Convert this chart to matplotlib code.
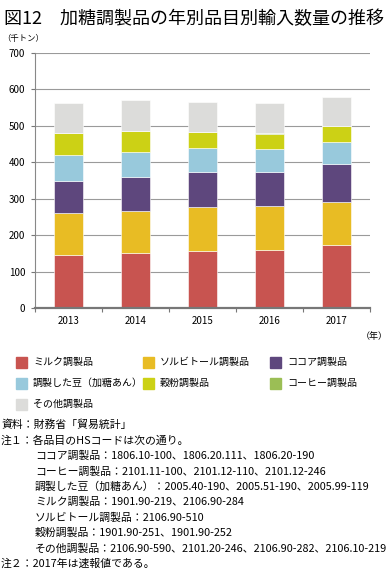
import numpy as np
import matplotlib
matplotlib.use("Agg")
import matplotlib.pyplot as plt

plt.rcParams['font.family'] = ['Noto Sans CJK JP', 'DejaVu Sans']

years = ["2013", "2014", "2015", "2016", "2017"]
# 千トン, stacked bottom -> top
milk = [145, 150, 157, 159, 173]
sorbitol = [115, 116, 119, 120, 117]
cocoa = [88, 93, 98, 94, 104]
beans = [73, 70, 66, 64, 62]
grain = [59, 57, 43, 42, 43]
coffee = [1, 1, 1, 1, 1]
other = [83, 83, 82, 84, 79]

names = ["ミルク調製品", "ソルビトール調製品", "ココア調製品",
         "調製した豆（加糖あん）", "穀粉調製品", "コーヒー調製品", "その他調製品"]
series = [milk, sorbitol, cocoa, beans, grain, coffee, other]
colors = ["#C85450", "#E8BC24", "#5E477D", "#98C9DC", "#CCD115", "#9BBE55", "#DCDCDA"]

notes = [
    ("資料：財務省「貿易統計」", 0),
    ("注１：各品目のHSコードは次の通り。", 0),
    ("ココア調製品：1806.10-100、1806.20.111、1806.20-190", 1),
    ("コーヒー調製品：2101.11-100、2101.12-110、2101.12-246", 1),
    ("調製した豆（加糖あん）：2005.40-190、2005.51-190、2005.99-119", 1),
    ("ミルク調製品：1901.90-219、2106.90-284", 1),
    ("ソルビトール調製品：2106.90-510", 1),
    ("穀粉調製品：1901.90-251、1901.90-252", 1),
    ("その他調製品：2106.90-590、2101.20-246、2106.90-282、2106.10-219", 1),
    ("注２：2017年は速報値である。", 0),
]

fig = plt.figure(figsize=(3.9, 5.7), dpi=100)
ax = fig.add_axes([35 / 390, 1 - 308 / 570, 335 / 390, 255 / 570])

x = np.arange(len(years))
bottom = np.zeros(len(years))
for vals, c, n in zip(series, colors, names):
    ax.bar(x, vals, 0.43, bottom=bottom, color=c, edgecolor="white", linewidth=0.4, label=n, zorder=3)
    bottom += np.array(vals)

ax.set_ylim(0, 700)
ax.set_xlim(-0.5, len(years) - 0.5)
ax.set_yticks(range(0, 701, 100))
ax.yaxis.grid(True, color="#9A9A9A", linewidth=0.8, zorder=0)
ax.set_xticks(x)
ax.set_xticklabels(years)
ax.set_xticks(np.arange(-0.5, len(years)), minor=True)
ax.tick_params(axis="x", which="major", length=0, labelsize=7, pad=6)
ax.tick_params(axis="x", which="minor", length=3, color="#777777", width=0.8)
ax.tick_params(axis="y", length=3, color="#777777", width=0.8, labelsize=7, pad=4)
for s in ["top", "right"]:
    ax.spines[s].set_visible(False)
ax.spines["left"].set_color("#888888")
ax.spines["left"].set_linewidth(0.8)
ax.spines["bottom"].set_color("#777777")
ax.spines["bottom"].set_linewidth(1.6)
ax.spines["bottom"].set_zorder(4)

fig.text(4 / 390, 1 - 19 / 570, "図12　加糖調製品の年別品目別輸入数量の推移", fontsize=13,
         va="center", ha="left")
fig.text(2 / 390, 1 - 38 / 570, "（千トン）", fontsize=6, va="center", ha="left")
fig.text(388 / 390, 1 - 337 / 570, "（年）", fontsize=6.5, va="center", ha="right")

# legend laid out in rows of three
for i, (n, c) in enumerate(zip(names, colors)):
    row, col = divmod(i, 3)
    lx = 16 + col * 127
    ly = 362 + row * 21
    fig.patches.append(plt.Rectangle((lx / 390, 1 - (ly + 5.5) / 570), 11 / 390, 11 / 570,
                                     transform=fig.transFigure, color=c, figure=fig))
    fig.text((lx + 17) / 390, 1 - ly / 570, n, fontsize=7.2, va="center", ha="left")

for i, (t, ind) in enumerate(notes):
    fig.text((1 + ind * 34) / 390, 1 - (425 + i * 15.4) / 570, t, fontsize=7.8,
             va="center", ha="left")

fig.savefig("out.png", dpi=100)
